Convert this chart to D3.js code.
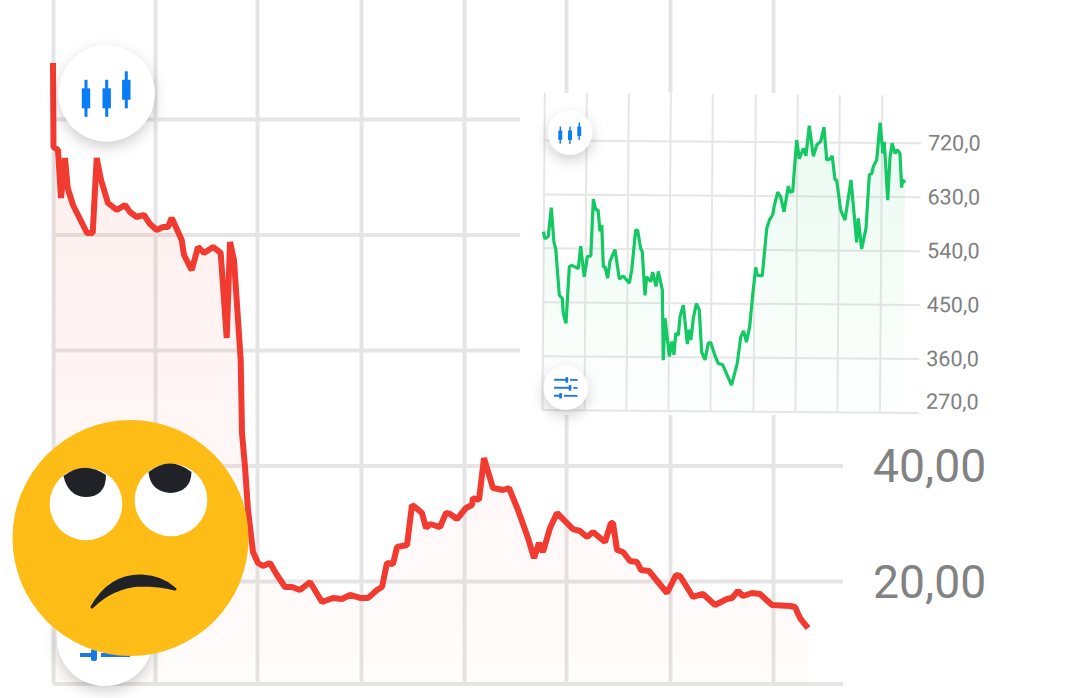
<!DOCTYPE html>
<html>
<head>
<meta charset="utf-8">
<script src="https://cdn.jsdelivr.net/npm/d3@7"></script>
<style>
  html, body { margin: 0; padding: 0; background: #fff; }
  svg { display: block; font-family: Roboto, sans-serif; }
  .grid .domain { display: none; }
  .labels .domain { display: none; }
  .labels line { display: none; }
</style>
</head>
<body>
<svg id="chart" width="1080" height="698"></svg>
<script>
// main chart (red)
const mainDays = [0, 0.5, 5, 8, 12, 14.7, 20, 26, 34, 39.7, 43.7, 48, 55, 63.7, 72, 77, 83.7, 91, 97, 103.7,
  110, 115, 118.7, 122, 128.7, 131, 138.7, 145, 151, 160, 167.7, 173.7, 177, 181, 187.7, 189, 192, 195, 200, 205,
  210, 217, 224, 232, 239, 247, 257, 269, 280, 289, 297, 307, 315, 324, 329, 334, 340, 344, 354, 359,
  362, 369, 373, 377, 387, 393, 397, 404, 413, 419, 420, 426, 431, 440, 450, 456, 465, 475, 481, 486,
  490, 497, 504, 514, 520, 527, 534, 540, 552, 558, 560, 564, 570, 577, 584, 588, 596, 605, 614, 623,
  627, 640, 650, 662, 674, 679, 685, 690, 699, 707, 719, 737, 742, 747, 755];
const mainPrices = [109.7, 95.15, 94.63, 86.32, 93.25, 88.05, 85.11, 83.03, 80.26, 80.26, 93.25, 89.44, 85.45, 84.24, 85.11, 83.9, 83.03, 83.38, 81.82, 80.78,
  81.3, 81.3, 82.86, 81.65, 79.05, 76.45, 73.85, 77.84, 76.8, 77.84, 76.8, 62.08, 78.7, 75.59, 58.27, 45.63, 39.74, 32.3, 25.02, 23.12,
  22.6, 23.12, 21.04, 18.96, 18.96, 18.44, 19.83, 16.36, 17.06, 16.88, 17.58, 17.06, 17.06, 18.44, 18.96, 23.12, 22.94, 25.89, 26.23, 33.16,
  32.81, 31.78, 29.18, 29.87, 29.35, 31.78, 31.6, 30.74, 32.64, 33.16, 34.37, 34.03, 41.3, 36.1, 35.76, 36.1, 32.3, 27.45, 23.98, 26.58,
  25.02, 29.18, 31.78, 30.04, 29, 28.66, 27.62, 28.49, 26.75, 30.04, 30.04, 25.37, 25.02, 23.46, 23.29, 21.9, 21.73, 19.83, 17.92, 21.04,
  20.87, 17.23, 17.75, 15.84, 16.88, 17.06, 18.27, 17.4, 17.92, 17.75, 15.84, 15.67, 15.5, 13.59, 11.86];
const mainGridDays = [0, 102, 204, 308, 411, 513, 617, 720];
const mainGridPrices = [20, 40, 60, 80, 100];
const mainLabelPrices = [20, 40];

// inset chart (green)
const insetDays = [0.1, 1.7, 5, 7.8, 10.7, 12.7, 16.5, 19.5, 20.6, 23.4, 26.3, 28.7, 35.3, 37.5, 41.3, 44.3, 47.7, 49.8, 52.3, 54.6,
  56.7, 58.4, 60.3, 62, 64.7, 66.9, 71.8, 76.4, 80.3, 86.4, 88.7, 92.4, 94.4, 97.5, 99.1, 102.2, 103.7, 107.8, 109.7, 113.1,
  115.3, 119.5, 120.9, 122.4, 127, 129.2, 131.6, 133.2, 135.8, 137.4, 140.6, 144.9, 146.7, 148.4, 150.7, 153.6, 156.6, 159.3, 162.7, 165.8,
  168.3, 172.6, 176, 180.4, 189.4, 195, 198.2, 201, 204, 207.1, 209.9, 212.7, 214.3, 219.3, 223.4, 226, 229.3, 230.8, 234.1, 237.1,
  240.6, 244.7, 246.4, 249.1, 252.7, 255.5, 259.4, 262.1, 265.2, 269.5, 272.8, 276.7, 279.9, 282.9, 286.2, 288.4, 291.3, 293, 297.2, 301.6,
  307.3, 313.5, 314.9, 318.5, 322.7, 325.6, 328, 329.6, 332.9, 336, 339, 340.3, 344.2, 346.1, 348.2, 351.1, 353.4, 356.1, 358, 359, 361.3];
const insetPrices = [567, 555, 559, 607, 550, 537, 461, 456, 431, 414, 509, 511, 506, 543, 492, 526, 527, 622, 604, 604,
  568, 579, 509, 509, 490, 518, 538, 489, 494, 482, 504, 571, 570, 540, 535, 462, 493, 485, 501, 477,
  502, 471, 354, 424, 360, 385, 363, 399, 396, 427, 446, 381, 405, 388, 424, 449, 438, 368, 355, 383,
  384, 362, 349, 347, 313, 350, 393, 404, 385, 411, 464, 510, 497, 496, 575, 589, 598, 613, 636, 628,
  603, 646, 636, 637, 723, 692, 709, 697, 747, 696, 715, 721, 745, 690, 692, 697, 657, 657, 607, 590,
  657, 553, 593, 542, 577, 666, 668, 680, 691, 753, 702, 721, 624, 694, 719, 702, 708, 702, 645, 658, 653];
const insetGridDays = [0, 42, 84, 126, 168, 211, 253, 295, 337.5];
const insetGridPrices = [270, 360, 450, 540, 630, 720];

const svg = d3.select('#chart');
const defs = svg.append('defs');

const shadow = defs.append('filter').attr('id', 'btnShadow')
  .attr('x', '-50%').attr('y', '-50%').attr('width', '200%').attr('height', '200%');
shadow.append('feDropShadow').attr('dx', 0).attr('dy', 5).attr('stdDeviation', 7)
  .attr('flood-color', '#000').attr('flood-opacity', 0.2);

function addGradient(id, color, topOpacity, bottomOpacity) {
  const g = defs.append('linearGradient').attr('id', id).attr('x1', 0).attr('y1', 0).attr('x2', 0).attr('y2', 1);
  g.append('stop').attr('offset', '0%').attr('stop-color', color).attr('stop-opacity', topOpacity);
  g.append('stop').attr('offset', '100%').attr('stop-color', color).attr('stop-opacity', bottomOpacity);
}
addGradient('redFill', '#f23b30', 0.09, 0.015);
addGradient('greenFill', '#14c864', 0.09, 0.005);

const comma = (v, digits) => v.toFixed(digits).replace('.', ',');

// main scales
const x = d3.scaleLinear().domain([0, 720]).range([53, 773]);
const y = d3.scaleLinear().domain([0, 100]).range([696.5, 119]);
const mainBottom = 684;
const mainTop = 0;
const mainRight = 843;

const main = svg.append('g');

main.append('g').attr('class', 'grid')
  .attr('transform', `translate(0,${mainBottom})`)
  .call(d3.axisBottom(x).tickValues(mainGridDays).tickSize(mainTop - mainBottom).tickFormat(''))
  .selectAll('line').attr('stroke', '#e5e5e5').attr('stroke-width', 4);

main.append('g').attr('class', 'grid')
  .attr('transform', 'translate(53,0)')
  .call(d3.axisLeft(y).tickValues(mainGridPrices).tickSize(-(mainRight - 53)).tickFormat(''))
  .selectAll('line').attr('stroke', '#e5e5e5').attr('stroke-width', 4);

main.append('line')
  .attr('x1', 53).attr('x2', mainRight).attr('y1', mainBottom).attr('y2', mainBottom)
  .attr('stroke', '#e5e5e5').attr('stroke-width', 4);

const mainPoints = d3.zip(mainDays, mainPrices);

main.append('path').datum(mainPoints)
  .attr('fill', 'url(#redFill)')
  .attr('d', d3.area().x(d => x(d[0])).y0(mainBottom).y1(d => y(d[1])));

main.append('path').datum(mainPoints)
  .attr('fill', 'none')
  .attr('stroke', '#f23b30')
  .attr('stroke-width', 6)
  .attr('stroke-linejoin', 'bevel')
  .attr('d', d3.line().x(d => x(d[0])).y(d => y(d[1])));

const mainLabels = main.append('g').attr('class', 'labels')
  .attr('transform', `translate(${mainRight},1.5)`)
  .call(d3.axisRight(y).tickValues(mainLabelPrices).tickSize(0).tickPadding(30).tickFormat(d => comma(d, 2)));
mainLabels.selectAll('text').attr('fill', '#828282').attr('font-size', 46.3).attr('font-family', 'Roboto, sans-serif');

// buttons of the main chart
function candleButton(g, cx, cy, r, k) {
  g.append('circle').attr('cx', cx).attr('cy', cy).attr('r', r).attr('fill', '#fff').attr('filter', 'url(#btnShadow)');
  const candles = [[-20.7, 0], [0, 0], [19.6, -8.5]];
  candles.forEach(c => {
    g.append('rect').attr('x', cx + (c[0] - 1.5) * k).attr('y', cy + (-13.5 + c[1]) * k)
      .attr('width', 3 * k).attr('height', 37 * k).attr('fill', '#0a7cf5');
    g.append('rect').attr('x', cx + (c[0] - 4.2) * k).attr('y', cy + (-5 + c[1]) * k)
      .attr('width', 8.4 * k).attr('height', 20 * k).attr('fill', '#0a7cf5');
  });
}
function sliderButton(g, cx, cy, r, k) {
  g.append('circle').attr('cx', cx).attr('cy', cy).attr('r', r).attr('fill', '#fff').attr('filter', 'url(#btnShadow)');
  const rows = [[-17, 2], [0, 9], [17, -11]];
  rows.forEach(row => {
    const ly = cy + row[0] * k;
    g.append('line').attr('x1', cx - 25 * k).attr('x2', cx + 25 * k).attr('y1', ly).attr('y2', ly)
      .attr('stroke', '#1a78e6').attr('stroke-width', 3.8 * k);
    g.append('rect').attr('x', cx + (row[1] - 3) * k).attr('y', ly - 6 * k)
      .attr('width', 6 * k).attr('height', 12 * k).attr('rx', 2 * k).attr('fill', '#1a78e6');
    g.append('rect').attr('x', cx + (row[1] + 3) * k).attr('y', ly - 3 * k)
      .attr('width', 4 * k).attr('height', 6 * k).attr('fill', '#fff');
  });
}
candleButton(main, 106.7, 93.3, 48, 1);
sliderButton(main, 105, 638, 48, 1);

// inset chart on a white card, slightly tilted like the photo
svg.append('rect').attr('x', 520).attr('y', 93).attr('width', 560).attr('height', 322).attr('fill', '#fff');

const inset = svg.append('g').attr('transform', 'rotate(0.43 722 270)');
const ix = d3.scaleLinear().domain([0, 337.5]).range([543, 880.5]);
const iy = d3.scaleLinear().domain([270, 720]).range([410.9, 141.3]);
const insetBottom = iy(270);
const insetTop = 94;
const insetRight = 920;

inset.append('g').attr('class', 'grid')
  .attr('transform', `translate(0,${insetBottom})`)
  .call(d3.axisBottom(ix).tickValues(insetGridDays).tickSize(insetTop - insetBottom).tickFormat(''))
  .selectAll('line').attr('stroke', '#e6e6e6').attr('stroke-width', 2);

inset.append('g').attr('class', 'grid')
  .attr('transform', 'translate(543,0)')
  .call(d3.axisLeft(iy).tickValues(insetGridPrices).tickSize(-(insetRight - 543)).tickFormat(''))
  .selectAll('line').attr('stroke', '#e6e6e6').attr('stroke-width', 2);

const insetPoints = d3.zip(insetDays, insetPrices);

inset.append('path').datum(insetPoints)
  .attr('fill', 'url(#greenFill)')
  .attr('d', d3.area().x(d => ix(d[0])).y0(insetBottom).y1(d => iy(d[1])));

inset.append('path').datum(insetPoints)
  .attr('fill', 'none')
  .attr('stroke', '#14c864')
  .attr('stroke-width', 3.2)
  .attr('stroke-linejoin', 'bevel')
  .attr('d', d3.line().x(d => ix(d[0])).y(d => iy(d[1])));

const insetLabels = inset.append('g').attr('class', 'labels')
  .attr('transform', `translate(${insetRight},0)`)
  .call(d3.axisRight(iy).tickValues(insetGridPrices).tickSize(0).tickPadding(7).tickFormat(d => comma(d, 1)));
insetLabels.selectAll('text').attr('fill', '#808080').attr('font-size', 21.5).attr('font-family', 'Roboto, sans-serif');
// lowest label sits above its gridline
insetLabels.selectAll('.tick').filter(d => d === 270).select('text').attr('y', -11);

candleButton(inset, 569, 134, 22, 0.47);
sliderButton(inset, 566.7, 389, 22, 0.47);

// emoji on top of everything
const face = svg.append('g');
face.append('circle').attr('cx', 130.5).attr('cy', 538).attr('r', 118).attr('fill', '#fdbc16');
face.append('circle').attr('cx', 86).attr('cy', 504).attr('r', 36.3).attr('fill', '#fff');
face.append('circle').attr('cx', 171).attr('cy', 500).attr('r', 36.3).attr('fill', '#fff');
face.append('path').attr('fill', '#212227')
  .attr('d', 'M63.5,476 Q84,460 106,475 Q106,497 85,497 Q68,496 63.5,476 Z');
face.append('path').attr('fill', '#212227')
  .attr('d', 'M148.5,472 Q170,455 191.5,472 Q191,492 170,493 Q150,491 148.5,472 Z');
face.append('path').attr('fill', '#212227').attr('stroke', '#212227').attr('stroke-width', 3).attr('stroke-linejoin', 'round')
  .attr('d', 'M92,607 Q110,575 142,576 Q162,577 175,589 Q160,585 140,585 Q112,587 92,607 Z');
</script>
</body>
</html>
